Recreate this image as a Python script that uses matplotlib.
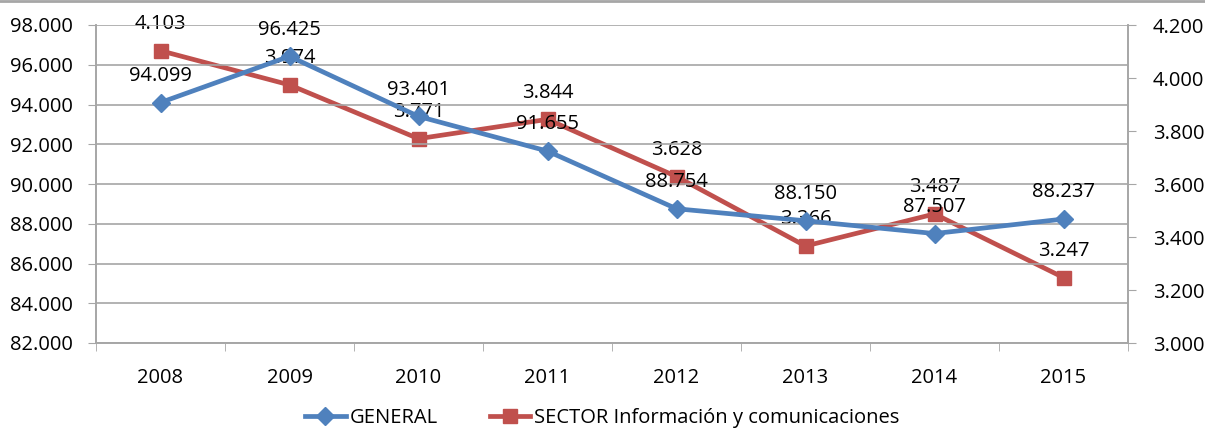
import numpy as np
import matplotlib.pyplot as plt
from matplotlib.lines import Line2D

plt.rcParams["font.family"] = ["Open Sans", "DejaVu Sans"]

years = ["2008", "2009", "2010", "2011", "2012", "2013", "2014", "2015"]
general = [94.099, 96.425, 93.401, 91.655, 88.754, 88.150, 87.507, 88.237]
sector = [4.103, 3.974, 3.771, 3.844, 3.628, 3.366, 3.487, 3.247]


def fmt(v):
    return f"{v:.3f}"


blue = "#4F81BD"
red = "#C0504D"
grid = "#A6A6A6"
fs = 14.5

fig = plt.figure(figsize=(12.05, 4.32), dpi=100)
ax1 = fig.add_axes([96 / 1205, 1 - 343 / 432, (1128 - 96) / 1205, (343 - 25) / 432])
ax2 = ax1.twinx()

x = np.arange(len(years))

ax1.plot(x, general, "-", color=blue, lw=3.4, marker="D", ms=9, zorder=3)
ax2.plot(x, sector, "-", color=red, lw=3.4, marker="s", ms=10, zorder=3)

ax1.set_ylim(82, 98)
ax1.set_yticks(np.arange(82, 98.1, 2))
ax1.set_yticklabels([fmt(v) for v in np.arange(82, 98.1, 2)])
ax2.set_ylim(3.0, 4.2)
ax2.set_yticks(np.arange(3.0, 4.21, 0.2))
ax2.set_yticklabels([f"{v:.3f}" for v in np.arange(3.0, 4.21, 0.2)])

ax1.set_xlim(-0.5, len(years) - 0.5)
ax1.set_xticks(x)
ax1.set_xticklabels(years)
ax1.set_xticks(np.arange(-0.5, len(years)), minor=True)
ax1.tick_params(axis="x", which="major", length=0, pad=18, labelsize=fs)
ax1.tick_params(axis="x", which="minor", length=6, color=grid)
ax1.tick_params(axis="y", length=6, color=grid, labelsize=fs, pad=11)
ax2.tick_params(axis="y", length=6, color=grid, labelsize=fs, pad=12)

ax1.grid(axis="y", color=grid, lw=1.2)
ax1.set_axisbelow(True)
for ax in (ax1, ax2):
    ax.spines["top"].set_visible(False)
    for s in ("left", "right", "bottom"):
        ax.spines[s].set_color(grid)
        ax.spines[s].set_linewidth(1.2)
ax1.set_zorder(ax2.get_zorder() + 1)
ax1.patch.set_visible(False)

for xi, v in zip(x, general):
    ax1.annotate(fmt(v), (xi, v), xytext=(0, 12), textcoords="offset points",
                 ha="center", va="bottom", fontsize=fs, zorder=5)
for xi, v in zip(x, sector):
    ax2.annotate(fmt(v), (xi, v), xytext=(0, 12), textcoords="offset points",
                 ha="center", va="bottom", fontsize=fs, zorder=5)

# frame line at the top of the chart area
fig.add_artist(Line2D([0, 1], [0.997, 0.997], color=grid, lw=2))

handles = [
    Line2D([], [], color=blue, lw=3.4, marker="D", ms=9),
    Line2D([], [], color=red, lw=3.4, marker="s", ms=10),
]
fig.legend(handles, ["GENERAL", "SECTOR Información y comunicaciones"],
           loc="center", bbox_to_anchor=(0.5, 1 - 418 / 432), ncol=2,
           frameon=False, fontsize=fs, handlelength=2.0, columnspacing=2.6,
           handletextpad=0.2)

fig.savefig("out.png", dpi=100)
